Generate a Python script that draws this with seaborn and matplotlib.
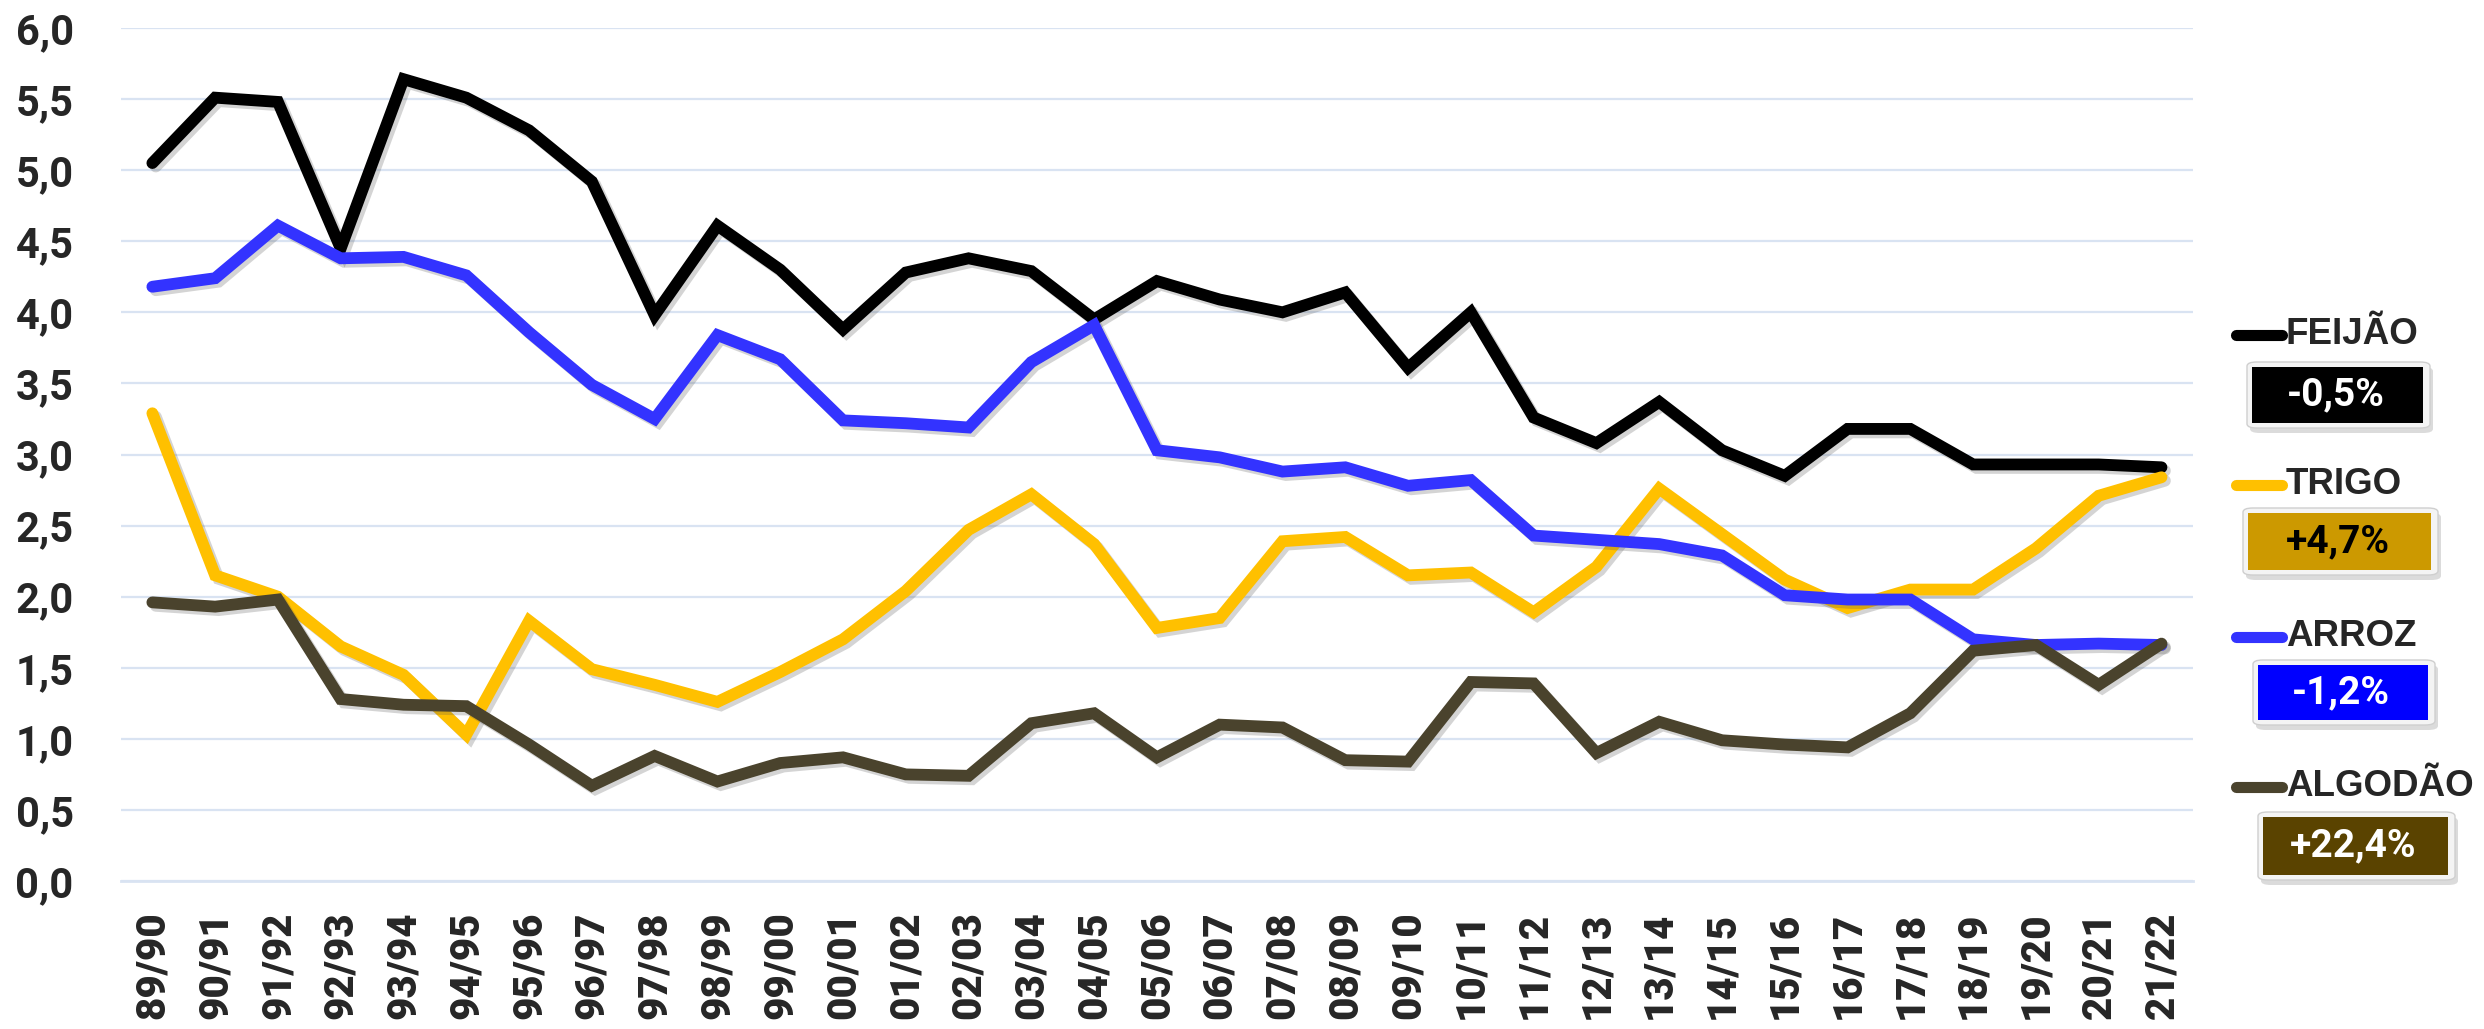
import numpy as np
import pandas as pd
import matplotlib
matplotlib.use("Agg")
import matplotlib.pyplot as plt
import matplotlib.patheffects as pe
from matplotlib.patches import FancyBboxPatch
from matplotlib.lines import Line2D
import seaborn as sns

# safras
safras = ['89/90', '90/91', '91/92', '92/93', '93/94', '94/95', '95/96', '96/97',
          '97/98', '98/99', '99/00', '00/01', '01/02', '02/03', '03/04', '04/05',
          '05/06', '06/07', '07/08', '08/09', '09/10', '10/11', '11/12', '12/13',
          '13/14', '14/15', '15/16', '16/17', '17/18', '18/19', '19/20', '20/21', '21/22']

feijao = [5.05, 5.51, 5.48, 4.45, 5.64, 5.51, 5.28, 4.92, 3.98, 4.61, 4.30, 3.88,
          4.28, 4.38, 4.29, 3.95, 4.22, 4.09, 4.00, 4.14, 3.61, 4.00, 3.26, 3.08,
          3.37, 3.03, 2.85, 3.18, 3.18, 2.93, 2.93, 2.93, 2.91]
trigo = [3.29, 2.15, 2.00, 1.65, 1.45, 1.03, 1.83, 1.49, 1.38, 1.26, 1.47, 1.70,
         2.04, 2.47, 2.72, 2.37, 1.78, 1.85, 2.39, 2.42, 2.15, 2.17, 1.89, 2.21,
         2.76, 2.44, 2.12, 1.92, 2.05, 2.05, 2.34, 2.71, 2.84]
arroz = [4.18, 4.24, 4.61, 4.38, 4.39, 4.26, 3.86, 3.49, 3.25, 3.84, 3.67, 3.24,
         3.22, 3.19, 3.65, 3.91, 3.03, 2.98, 2.88, 2.91, 2.78, 2.82, 2.43, 2.40,
         2.37, 2.29, 2.01, 1.98, 1.98, 1.70, 1.66, 1.67, 1.66]
algodao = [1.96, 1.93, 1.98, 1.28, 1.24, 1.23, 0.96, 0.67, 0.88, 0.70, 0.83, 0.87,
           0.75, 0.74, 1.11, 1.18, 0.87, 1.10, 1.08, 0.85, 0.84, 1.40, 1.39, 0.90,
           1.12, 0.99, 0.96, 0.94, 1.18, 1.62, 1.66, 1.38, 1.67]

culturas = ['FEIJÃO', 'TRIGO', 'ARROZ', 'ALGODÃO']
variacao = ['-0,5%', '+4,7%', '-1,2%', '+22,4%']
cores = {'FEIJÃO': '#000000', 'TRIGO': '#FFC000', 'ARROZ': '#3333FF', 'ALGODÃO': '#4A432D'}
cores_caixa = ['#000000', '#CC9900', '#0000FF', '#5A4300']
cores_texto = ['white', 'black', 'white', 'white']

y_ticks = [0, 0.5, 1, 1.5, 2, 2.5, 3, 3.5, 4, 4.5, 5, 5.5, 6]

df = pd.DataFrame({'Safra': safras * 4,
                   'Valor': feijao + trigo + arroz + algodao,
                   'Cultura': np.repeat(culturas, len(safras))})

sns.set_style("white")
plt.rcParams['font.family'] = ['Roboto', 'DejaVu Sans']

fig = plt.figure(figsize=(24.84, 10.29), dpi=100)
ax = fig.add_axes([0.0487, 0.1438, 0.8341, 0.829])

sns.lineplot(data=df, x='Safra', y='Valor', hue='Cultura', palette=cores,
             hue_order=culturas, sort=False, estimator=None,
             legend=False, ax=ax)

shadow = [pe.SimpleLineShadow(offset=(2.5, -2.5), alpha=0.25, shadow_color='#555555'), pe.Normal()]
for i, ln in enumerate(ax.lines):
    ln.set_linewidth(8.5)
    ln.set_solid_joinstyle('miter')
    ln.set_solid_capstyle('round')
    ln.set_path_effects(shadow)
    ln.set_zorder(3 + i)

ax.set_xlim(-0.5, len(safras) - 0.5)
ax.set_ylim(0, 6)
ax.set_yticks(y_ticks)
ax.set_yticklabels([f'{v:.1f}'.replace('.', ',') for v in y_ticks])
ax.set_xticks(range(len(safras)))
ax.set_xticklabels(safras, rotation=90, family='Roboto', weight='black', fontsize=29)
ax.set_xticks(np.arange(-0.5, len(safras), 1), minor=True)

ax.grid(axis='y', color='#D9E3F2', linewidth=1.6)
ax.set_axisbelow(True)
for s in ['left', 'right', 'top']:
    ax.spines[s].set_visible(False)
ax.spines['bottom'].set_color('#D9E3F2')
ax.spines['bottom'].set_linewidth(2)

ax.tick_params(axis='y', length=0, pad=34, labelsize=30)
for lbl in ax.get_yticklabels():
    lbl.set_fontweight('bold')
ax.tick_params(axis='x', which='major', length=0, pad=22)
ax.tick_params(axis='x', which='minor', length=10, width=1.6, color='#D9E3F2')
ax.set_xlabel('')
ax.set_ylabel('')

# legenda personalizada (posições em pixels da figura)
W, H = 2484, 1029
label_y = [335, 485, 637, 787]
caixas = [(2247, 362, 2430, 428), (2243, 508, 2438, 575),
          (2253, 660, 2435, 725), (2258, 812, 2455, 880)]
for i, nome in enumerate(culturas):
    yc = 1 - label_y[i] / H
    fig.add_artist(Line2D([2236 / W, 2282 / W], [yc, yc], transform=fig.transFigure,
                          color=cores[nome], linewidth=8, solid_capstyle='round'))
    fig.text(2286 / W, yc, nome, ha='left', va='center', fontsize=26.5, weight='bold',
             family='Liberation Sans')
    x0, y0, x1, y1 = caixas[i]
    bx, by = x0 / W, 1 - y1 / H
    bw, bh = (x1 - x0) / W, (y1 - y0) / H
    sombra = FancyBboxPatch((bx + 3 / W, by - 5 / H), bw, bh, transform=fig.transFigure,
                            boxstyle='round,pad=0,rounding_size=0.004',
                            facecolor='#999999', edgecolor='none', alpha=0.35)
    moldura = FancyBboxPatch((bx, by), bw, bh, transform=fig.transFigure,
                             boxstyle='round,pad=0,rounding_size=0.004',
                             facecolor='#F4F4F4', edgecolor='#CFCFCF', linewidth=1)
    dentro = FancyBboxPatch((bx + 5 / W, by + 5 / H), bw - 12 / W, bh - 10 / H,
                            transform=fig.transFigure, boxstyle='square,pad=0',
                            facecolor=cores_caixa[i], edgecolor='none')
    fig.add_artist(sombra)
    fig.add_artist(moldura)
    fig.add_artist(dentro)
    fig.text(bx + bw / 2 - 3 / W, by + bh / 2, variacao[i], ha='center', va='center',
             fontsize=28, weight='bold', color=cores_texto[i])

fig.savefig('out.png', dpi=100)
